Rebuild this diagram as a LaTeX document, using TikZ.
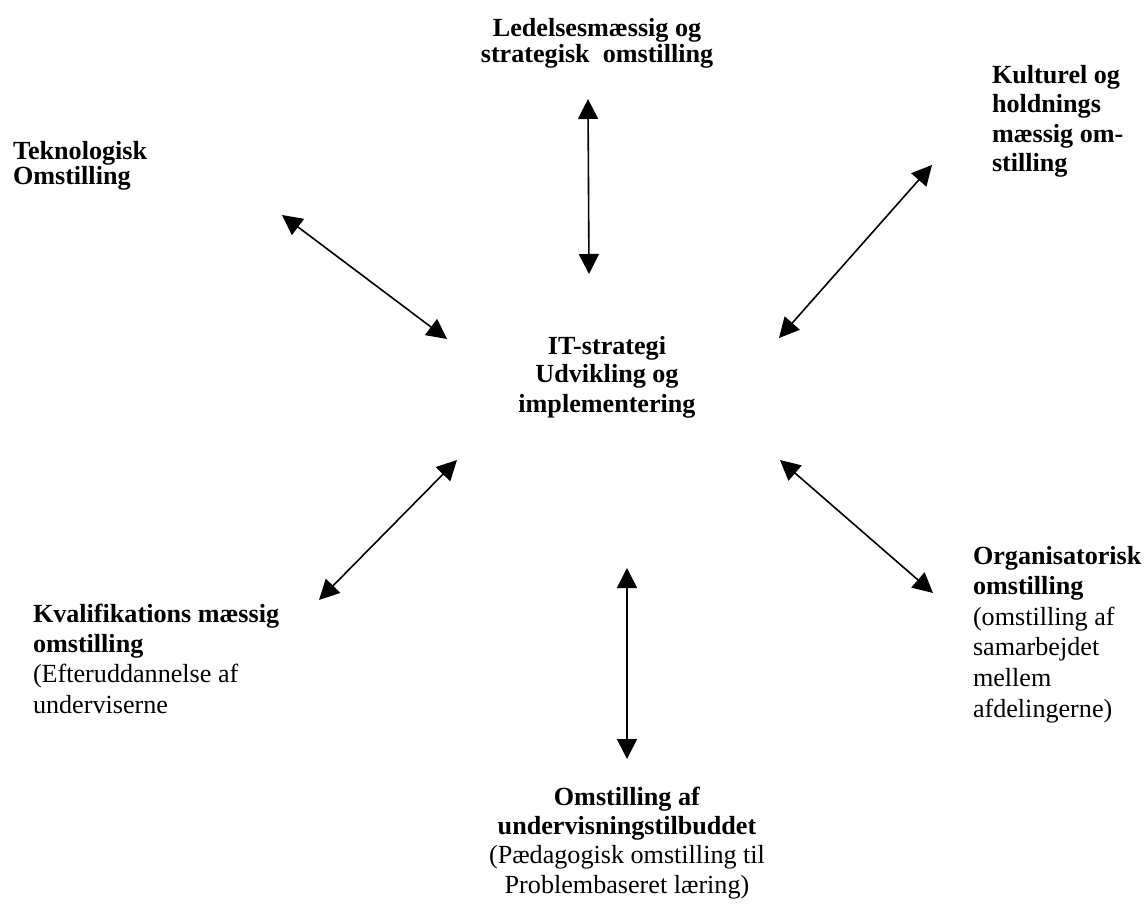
\documentclass[tikz,border=0pt]{standalone}
\usepackage{fontspec}
\setmainfont{Liberation Serif}
\usetikzlibrary{arrows.meta}
\tikzset{
  lbl/.style={inner sep=0pt, outer sep=0pt, align=left, anchor=base west},
  lblc/.style={inner sep=0pt, outer sep=0pt, align=center, anchor=base},
  link/.style={line width=1.2pt, {Triangle[length=15pt,width=15pt]}-{Triangle[length=15pt,width=15pt]}},
}
\begin{document}
\begin{tikzpicture}[x=0.75pt,y=-0.75pt]
\useasboundingbox (0,0) rectangle (1147,909);
% labels (anchored at the baseline of the last line)
\node[lblc, font={\fontsize{19.6}{19.5}\selectfont\bfseries}] (lead) at (597,63)
  {Ledelsesmæssig og\\strategisk\ \ omstilling};
\node[lbl, font={\fontsize{19.6}{17.25}\selectfont\bfseries}] (tek) at (13,185)
  {Teknologisk\\Omstilling};
\node[lbl, font={\fontsize{19.6}{22.2}\selectfont\bfseries}] (kult) at (992,172)
  {Kulturel og\\holdnings\\mæssig om-\\stilling};
\node[lblc, font={\fontsize{19.6}{21.75}\selectfont\bfseries}] (it) at (607,412)
  {IT-strategi\\Udvikling og\\implementering};
\node[lbl, font={\fontsize{19.6}{22.7}\selectfont}] (kval) at (33,713)
  {\textbf{Kvalifikations mæssig}\\\textbf{omstilling}\\(Efteruddannelse af\\underviserne};
\node[lbl, font={\fontsize{19.6}{22.9}\selectfont}] (org) at (973,717)
  {\textbf{Organisatorisk}\\\textbf{omstilling}\\(omstilling af\\samarbejdet\\mellem\\afdelingerne)};
\node[lblc, font={\fontsize{19.6}{21.9}\selectfont}] (und) at (627,893)
  {\textbf{Omstilling af}\\\textbf{undervisningstilbuddet}\\(Pædagogisk omstilling til\\Problembaseret læring)};
% arrow end points
\coordinate (tekA) at (282,215);
\coordinate (tekB) at (447,339);
\coordinate (leadA) at (588,99);
\coordinate (leadB) at (589,274);
\coordinate (kultA) at (932,165);
\coordinate (kultB) at (779,338);
\coordinate (kvalA) at (457,460);
\coordinate (kvalB) at (319,600);
\coordinate (orgA) at (780,460);
\coordinate (orgB) at (933,593);
\coordinate (undA) at (627,568);
\coordinate (undB) at (627,759);
% connectors
\draw[link] (tekA) -- (tekB);
\draw[link] (leadA) -- (leadB);
\draw[link] (kultA) -- (kultB);
\draw[link] (kvalA) -- (kvalB);
\draw[link] (orgA) -- (orgB);
\draw[link] (undA) -- (undB);
\end{tikzpicture}
\end{document}
